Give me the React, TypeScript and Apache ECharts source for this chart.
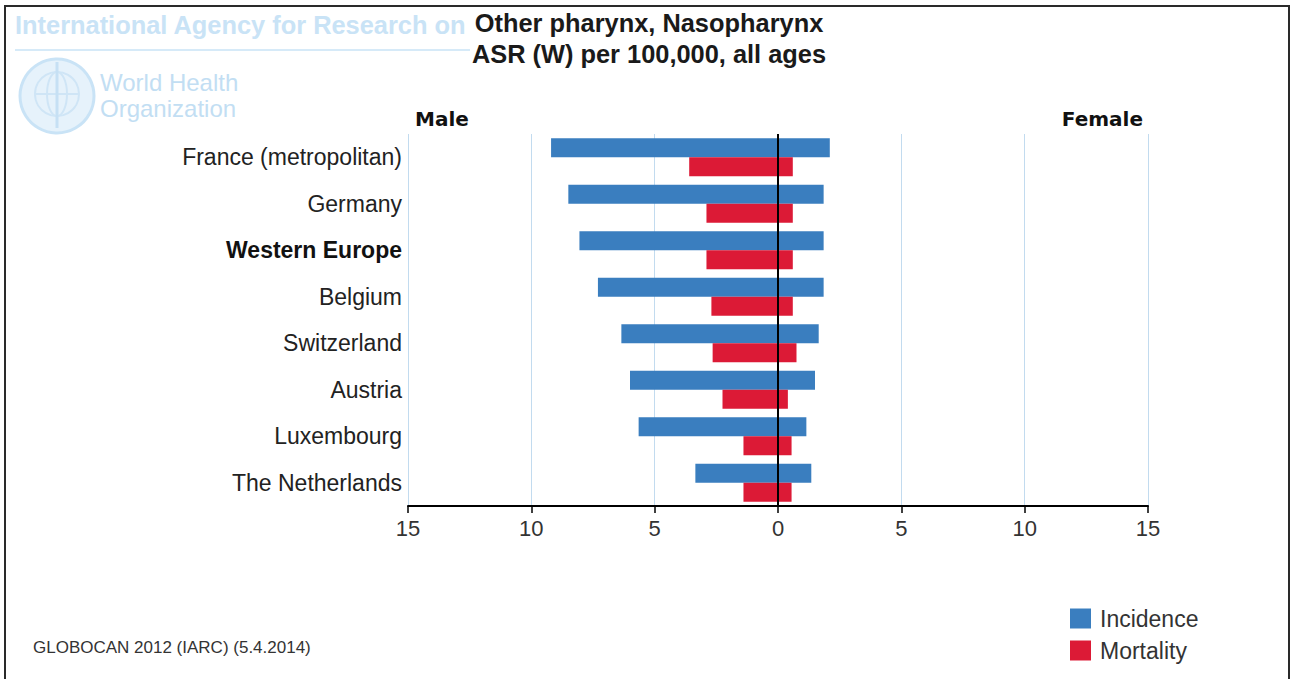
import React, { useEffect, useRef } from "react";
import * as echarts from "echarts";

const categories = [
  "France (metropolitan)",
  "Germany",
  "Western Europe",
  "Belgium",
  "Switzerland",
  "Austria",
  "Luxembourg",
  "The Netherlands",
];
const incidenceMale = [9.2, 8.5, 8.05, 7.3, 6.35, 6.0, 5.65, 3.35];
const incidenceFemale = [2.1, 1.85, 1.85, 1.85, 1.65, 1.5, 1.15, 1.35];
const mortalityMale = [3.6, 2.9, 2.9, 2.7, 2.65, 2.25, 1.4, 1.4];
const mortalityFemale = [0.6, 0.6, 0.6, 0.6, 0.75, 0.4, 0.55, 0.55];
const xMin = -15;
const xMax = 15;
const xInterval = 5;
const boldCategory = "Western Europe";
const titleLines = ["Other pharynx, Nasopharynx", "ASR (W) per 100,000, all ages"];
const footer = "GLOBOCAN 2012 (IARC) (5.4.2014)";

const BLUE = "#3a7ebf";
const RED = "#dc1a36";
const WM = "#c9e3f6";
const FONT = "'Liberation Sans', Arial, sans-serif";

export default function App() {
  const ref = useRef<HTMLDivElement>(null);
  useEffect(() => {
    if (!ref.current) return;
    const chart = echarts.init(ref.current, undefined, { renderer: "svg" });
    const barWidth = 19;
    const option: any = {
      animation: false,
      backgroundColor: "#ffffff",
      textStyle: { fontFamily: FONT },
      grid: { left: 408, right: 144, top: 134, bottom: 173, containLabel: false },
      legend: {
        orient: "vertical",
        left: 1065,
        top: 602,
        itemWidth: 21,
        itemHeight: 20,
        itemGap: 9,
        icon: "rect",
        data: ["Incidence", "Mortality"],
        textStyle: { fontSize: 23, color: "#333", fontFamily: FONT, padding: [0, 0, 0, 4] },
        selectedMode: false,
      },
      xAxis: {
        type: "value",
        min: xMin,
        max: xMax,
        interval: xInterval,
        axisLine: { show: true, onZero: false, lineStyle: { color: "#000", width: 2 } },
        axisTick: { show: true, length: 7, lineStyle: { color: "#000", width: 1.5 } },
        axisLabel: {
          formatter: (v: number) => String(Math.abs(v)),
          fontSize: 22,
          color: "#333",
          margin: 11,
          fontFamily: FONT,
        },
        splitLine: { show: true, lineStyle: { color: "#c2dbef", width: 1 } },
      },
      yAxis: {
        type: "category",
        inverse: true,
        data: categories,
        axisLine: { show: false },
        axisTick: { show: false },
        splitLine: { show: false },
        axisLabel: {
          fontSize: 23,
          color: "#222",
          margin: 6,
          fontFamily: FONT,
          formatter: (v: string) => (v === boldCategory ? `{b|${v}}` : v),
          rich: { b: { fontSize: 23, fontWeight: "bold", color: "#111", fontFamily: FONT } },
        },
      },
      series: [
        {
          name: "Incidence",
          type: "bar",
          stack: "inc",
          barWidth,
          barGap: "0%",
          itemStyle: { color: BLUE },
          data: incidenceMale.map((v) => -v),
          markLine: {
            silent: true,
            symbol: "none",
            label: { show: false },
            lineStyle: { color: "#000", width: 2, type: "solid" },
            data: [{ xAxis: 0 }],
            z: 10,
          },
        },
        {
          name: "Incidence",
          type: "bar",
          stack: "inc",
          barWidth,
          barGap: "0%",
          itemStyle: { color: BLUE },
          data: incidenceFemale,
        },
        {
          name: "Mortality",
          type: "bar",
          stack: "mort",
          barWidth,
          barGap: "0%",
          itemStyle: { color: RED },
          data: mortalityMale.map((v) => -v),
        },
        {
          name: "Mortality",
          type: "bar",
          stack: "mort",
          barWidth,
          barGap: "0%",
          itemStyle: { color: RED },
          data: mortalityFemale,
        },
      ],
      graphic: [
        // watermark
        {
          type: "text",
          left: 15,
          top: 12,
          z: 1,
          style: {
            text: "International Agency for Research on",
            fontSize: 25.4,
            fontWeight: "bold",
            fontFamily: FONT,
            fill: WM,
          },
        },
        {
          type: "line",
          z: 1,
          shape: { x1: 15, y1: 50, x2: 470, y2: 50 },
          style: { stroke: "#d6eaf8", lineWidth: 2 },
        },
        {
          type: "group",
          z: 1,
          children: [
            { type: "circle", shape: { cx: 57, cy: 96, r: 37 }, style: { fill: "#e6f2fb", stroke: WM, lineWidth: 3 } },
            { type: "circle", shape: { cx: 57, cy: 94, r: 22 }, style: { fill: "none", stroke: "#cfe5f6", lineWidth: 2 } },
            { type: "ellipse", shape: { cx: 57, cy: 94, rx: 10, ry: 22 }, style: { fill: "none", stroke: "#cfe5f6", lineWidth: 2 } },
            { type: "line", shape: { x1: 35, y1: 94, x2: 79, y2: 94 }, style: { stroke: "#cfe5f6", lineWidth: 2 } },
            { type: "line", shape: { x1: 57, y1: 62, x2: 57, y2: 128 }, style: { stroke: "#c6e0f4", lineWidth: 3 } },
          ],
        },
        {
          type: "text",
          left: 100,
          top: 69,
          z: 1,
          style: {
            text: "World Health\nOrganization",
            fontSize: 24,
            lineHeight: 26,
            fontWeight: "normal",
            fontFamily: FONT,
            fill: "#c2def3",
          },
        },
        // white backing behind title
        {
          type: "rect",
          z: 2,
          shape: { x: 470, y: 8, width: 360, height: 64 },
          style: { fill: "#ffffff" },
        },
        {
          type: "text",
          x: 649,
          y: 23,
          z: 3,
          style: {
            text: titleLines[0],
            fontSize: 25.4,
            fontWeight: "bold",
            fontFamily: FONT,
            fill: "#1a1a1a",
            textAlign: "center",
            textVerticalAlign: "middle",
          },
        },
        {
          type: "text",
          x: 649,
          y: 54,
          z: 3,
          style: {
            text: titleLines[1],
            fontSize: 25.4,
            fontWeight: "bold",
            fontFamily: FONT,
            fill: "#1a1a1a",
            textAlign: "center",
            textVerticalAlign: "middle",
          },
        },
        {
          type: "text",
          x: 415,
          y: 119,
          z: 3,
          style: {
            text: "Male",
            fontSize: 20,
            fontWeight: "bold",
            fontFamily: "'DejaVu Sans', Verdana, sans-serif",
            fill: "#111",
            textAlign: "left",
            textVerticalAlign: "middle",
          },
        },
        {
          type: "text",
          x: 1143,
          y: 119,
          z: 3,
          style: {
            text: "Female",
            fontSize: 20,
            fontWeight: "bold",
            fontFamily: "'DejaVu Sans', Verdana, sans-serif",
            fill: "#111",
            textAlign: "right",
            textVerticalAlign: "middle",
          },
        },
        {
          type: "text",
          x: 33,
          y: 647,
          z: 3,
          style: {
            text: footer,
            fontSize: 17,
            fontFamily: FONT,
            fill: "#333",
            textAlign: "left",
            textVerticalAlign: "middle",
          },
        },
        // frame
        {
          type: "polyline",
          z: 5,
          shape: { points: [[5, 679], [5, 6], [1289, 6], [1289, 679]] },
          style: { stroke: "#2a2a2a", lineWidth: 2, fill: "none" },
        },
      ],
    };
    chart.setOption(option);
    return () => chart.dispose();
  }, []);
  return (
    <div
      ref={ref}
      style={{ position: "fixed", left: 0, top: 0, width: 1292, height: 679, background: "#fff" }}
    />
  );
}
